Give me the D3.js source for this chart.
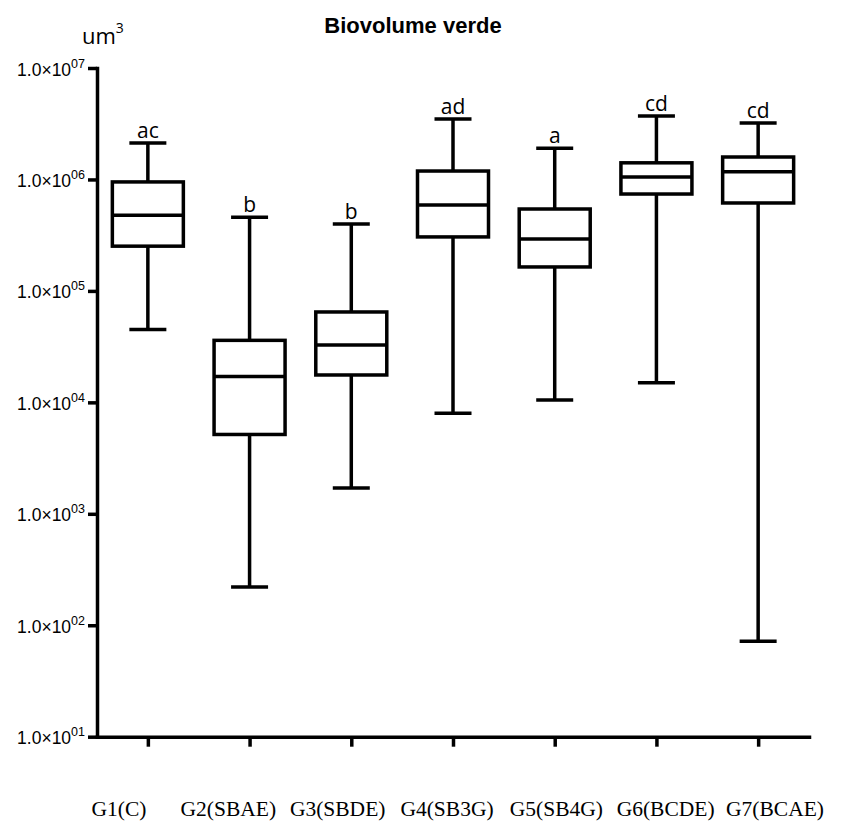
<!DOCTYPE html>
<html>
<head>
<meta charset="utf-8">
<script src="https://cdn.jsdelivr.net/npm/d3@7"></script>
<style>
  html, body { margin: 0; padding: 0; background: #fff; }
  svg { display: block; }
</style>
</head>
<body>
<svg id="chart" width="842" height="821"></svg>
<script>
const categories = ["G1(C)", "G2(SBAE)", "G3(SBDE)", "G4(SB3G)", "G5(SB4G)", "G6(BCDE)", "G7(BCAE)"];
const whiskerLow  = [4.5e4, 2.2e2, 1.7e3, 8.0e3, 1.05e4, 1.5e4, 72];
const q1          = [2.52e5, 5.15e3, 1.76e4, 3.05e5, 1.64e5, 7.4e5, 6.15e5];
const median      = [4.77e5, 1.71e4, 3.27e4, 5.9e5, 2.92e5, 1.05e6, 1.17e6];
const q3          = [9.5e5, 3.6e4, 6.47e4, 1.19e6, 5.43e5, 1.41e6, 1.59e6];
const whiskerHigh = [2.12e6, 4.58e5, 3.98e5, 3.49e6, 1.91e6, 3.7e6, 3.21e6];
const letters     = ["ac", "b", "b", "ad", "a", "cd", "cd"];
const yTicks      = [1e1, 1e2, 1e3, 1e4, 1e5, 1e6, 1e7];
const titleText   = "Biovolume verde";
const unitText    = "um";

const svg = d3.select("#chart");
const data = categories.map((c, i) => ({
  cat: c, lo: whiskerLow[i], q1: q1[i], med: median[i], q3: q3[i], hi: whiskerHigh[i], letter: letters[i]
}));

const y = d3.scaleLog().domain([1e1, 1e7]).range([736.7, 68]);
const x = d3.scalePoint().domain(categories).range([97, 809]).padding(0.5);
const xLabel = d3.scalePoint().domain(categories).range([119, 775]).padding(0);

const boxW = 71, capW = 37, sw = 3.5;

// Y axis
const yAxis = svg.append("g").attr("transform", "translate(97,0)")
  .call(d3.axisLeft(y).tickValues(yTicks).tickSize(9).tickSizeOuter(0).tickFormat(""));
yAxis.select(".domain").attr("stroke", "#000").attr("stroke-width", sw).attr("stroke-linecap", "square");
yAxis.selectAll(".tick line").attr("stroke", "#000").attr("stroke-width", sw);
yAxis.selectAll(".tick text").remove();
yAxis.selectAll(".tick").append("text")
  .attr("x", -12).attr("y", 7)
  .attr("text-anchor", "end")
  .attr("fill", "#000")
  .style("font-family", "Liberation Sans, Arial, sans-serif")
  .style("font-size", "17.5px")
  .each(function(d) {
    const t = d3.select(this);
    const e = Math.round(Math.log10(d));
    t.append("tspan").text("1.0×10");
    t.append("tspan").attr("dy", -8).style("font-size", "12.5px").text(String(e).padStart(2, "0"));
  });

// X axis
const xAxis = svg.append("g").attr("transform", "translate(0,736.7)")
  .call(d3.axisBottom(x).tickSize(10).tickSizeOuter(0).tickFormat(""));
xAxis.select(".domain").attr("stroke", "#000").attr("stroke-width", sw).attr("stroke-linecap", "square");
xAxis.selectAll(".tick line").attr("stroke", "#000").attr("stroke-width", sw);
xAxis.selectAll(".tick text").remove();

// X labels
svg.append("g").selectAll("text").data(categories).join("text")
  .attr("x", d => xLabel(d)).attr("y", 816)
  .attr("text-anchor", "middle")
  .attr("fill", "#000")
  .style("font-family", "Liberation Serif, Times New Roman, serif")
  .style("font-size", "21.5px")
  .text(d => d);

// Boxes
const g = svg.append("g").attr("stroke", "#000").attr("stroke-width", sw).attr("fill", "none");
const box = g.selectAll("g.box").data(data).join("g").attr("class", "box");
box.append("line")
  .attr("x1", d => x(d.cat)).attr("x2", d => x(d.cat))
  .attr("y1", d => y(d.hi)).attr("y2", d => y(d.q3));
box.append("line")
  .attr("x1", d => x(d.cat)).attr("x2", d => x(d.cat))
  .attr("y1", d => y(d.q1)).attr("y2", d => y(d.lo));
box.append("line")
  .attr("x1", d => x(d.cat) - capW / 2).attr("x2", d => x(d.cat) + capW / 2)
  .attr("y1", d => y(d.hi)).attr("y2", d => y(d.hi));
box.append("line")
  .attr("x1", d => x(d.cat) - capW / 2).attr("x2", d => x(d.cat) + capW / 2)
  .attr("y1", d => y(d.lo)).attr("y2", d => y(d.lo));
box.append("rect")
  .attr("x", d => x(d.cat) - boxW / 2).attr("width", boxW)
  .attr("y", d => y(d.q3)).attr("height", d => y(d.q1) - y(d.q3))
  .attr("fill", "#fff");
box.append("line")
  .attr("x1", d => x(d.cat) - boxW / 2).attr("x2", d => x(d.cat) + boxW / 2)
  .attr("y1", d => y(d.med)).attr("y2", d => y(d.med));

// Letters
svg.append("g").selectAll("text").data(data).join("text")
  .attr("x", d => x(d.cat)).attr("y", d => y(d.hi) - 5)
  .attr("text-anchor", "middle")
  .attr("fill", "#000")
  .style("font-family", "Open Sans, sans-serif")
  .style("font-size", "21px")
  .text(d => d.letter);

// Title
svg.append("text")
  .attr("x", 413).attr("y", 33)
  .attr("text-anchor", "middle")
  .attr("fill", "#000")
  .style("font-family", "Liberation Sans, Arial, sans-serif")
  .style("font-weight", "bold")
  .style("font-size", "22px")
  .text(titleText);

// Unit
const u = svg.append("text")
  .attr("x", 82).attr("y", 44)
  .attr("fill", "#000")
  .style("font-family", "Open Sans, sans-serif")
  .style("font-size", "22px");
u.append("tspan").text(unitText);
u.append("tspan").attr("dy", -11).style("font-size", "14px").text("3");
</script>
</body>
</html>
